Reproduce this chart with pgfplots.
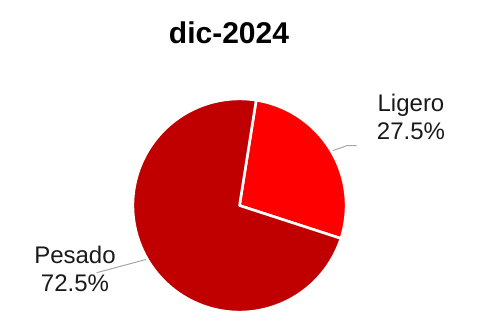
\documentclass[border=0pt]{standalone}
\usepackage{fontspec}
\setmainfont{Liberation Sans}
\usepackage{pgfplots}
\usepackage{pgfplotstable}
\pgfplotsset{compat=1.18}
\definecolor{ligero}{HTML}{FF0000}
\definecolor{pesado}{HTML}{C00000}
\definecolor{leader}{HTML}{A6A6A6}
\definecolor{lbl}{HTML}{1A1A1A}
\pgfplotstableread{
label value
Ligero 27.5
Pesado 72.5
}\piedata
\begin{document}
\begin{tikzpicture}
\pgfplotstablegetelem{0}{value}\of\piedata
\pgfmathsetmacro\va{\pgfplotsretval}
\pgfplotstablegetelem{1}{value}\of\piedata
\pgfmathsetmacro\vb{\pgfplotsretval}
\pgfmathsetmacro\aStart{81}
\pgfmathsetmacro\aMid{\aStart-3.6*\va}
\pgfmathsetmacro\aEnd{\aMid-3.6*\vb}
\def\cx{239.5}
\def\cy{121.5}
\def\rr{106.6}
\begin{axis}[
  width=485pt, height=327pt, scale only axis,
  xmin=0, xmax=485, ymin=0, ymax=327,
  hide axis, clip=false,
]
% leader lines
\addplot[leader, line width=1pt] coordinates {(332.7,176.3) (346.7,181.3) (356.7,181.3)};
\addplot[leader, line width=1pt] coordinates {(146.7,67.7) (96.7,54.3)};
% slices
\addplot[fill=ligero, draw=white, line width=2.6pt, line join=round, domain=\aStart:\aMid, samples=80, variable=\t]
  ({\cx+\rr*cos(\t)}, {\cy+\rr*sin(\t)}) -- (axis cs:\cx,\cy) -- cycle;
\addplot[fill=pesado, draw=white, line width=2.6pt, line join=round, domain=\aMid:\aEnd, samples=200, variable=\t]
  ({\cx+\rr*cos(\t)}, {\cy+\rr*sin(\t)}) -- (axis cs:\cx,\cy) -- cycle;
% title
\node[font=\fontsize{30}{36}\selectfont\bfseries, text=black] at (axis cs:229,294) {dic-2024};
% labels
\node[font=\fontsize{24}{28.5}\selectfont, text=lbl, align=center] at (axis cs:411,210) {Ligero\\27.5\%};
\node[font=\fontsize{24}{28.5}\selectfont, text=lbl, align=center] at (axis cs:75,58) {Pesado\\72.5\%};
\end{axis}
\path[use as bounding box] (current axis.south west) rectangle (current axis.north east);
\end{tikzpicture}
\end{document}
